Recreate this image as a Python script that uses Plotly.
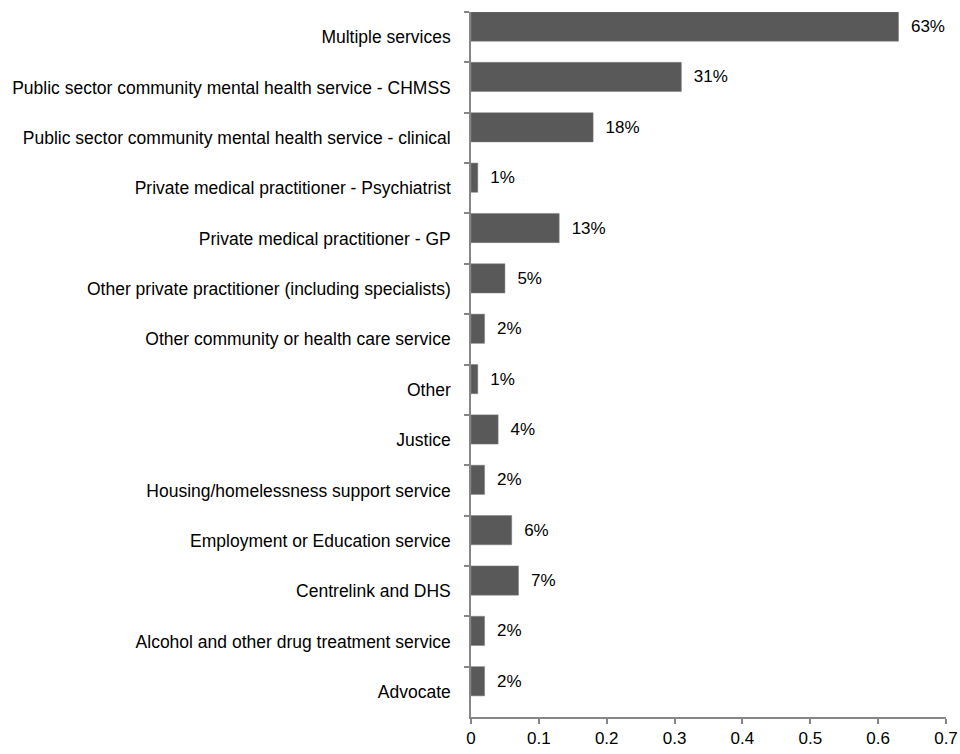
import plotly.graph_objects as go

categories = [
    "Multiple services",
    "Public sector community mental health service - CHMSS",
    "Public sector community mental health service - clinical",
    "Private medical practitioner - Psychiatrist",
    "Private medical practitioner - GP",
    "Other private practitioner (including specialists)",
    "Other community or health care service",
    "Other",
    "Justice",
    "Housing/homelessness support service",
    "Employment or Education service",
    "Centrelink and DHS",
    "Alcohol and other drug treatment service",
    "Advocate",
]
values = [0.63, 0.31, 0.18, 0.01, 0.13, 0.05, 0.02, 0.01, 0.04, 0.02, 0.06, 0.07, 0.02, 0.02]
labels = ["63%", "31%", "18%", "1%", "13%", "5%", "2%", "1%", "4%", "2%", "6%", "7%", "2%", "2%"]
x_ticks = [0, 0.1, 0.2, 0.3, 0.4, 0.5, 0.6, 0.7]

font_family = "Liberation Sans, Arial, sans-serif"

fig = go.Figure(go.Bar(
    x=values,
    y=categories,
    orientation="h",
    text=["  " + t for t in labels],
    textposition="outside",
    textfont=dict(size=17, color="#000000", family=font_family),
    cliponaxis=False,
    constraintext="none",
    marker=dict(color="#595959", line=dict(color="#7f7f7f", width=0.5)),
    width=0.58,
    offset=-0.5,
))

fig.update_layout(
    width=960, height=754,
    margin=dict(l=471, r=14, t=12, b=37, autoexpand=False),
    plot_bgcolor="white", paper_bgcolor="white",
    showlegend=False,
    font=dict(family=font_family, size=17, color="#000000"),
)
fig.update_xaxes(
    range=[0, 0.7], tickvals=x_ticks, ticktext=[f"{v:g}" for v in x_ticks],
    showgrid=False, zeroline=False, automargin=False,
    showline=True, linecolor="#868686", linewidth=1.5,
    ticks="outside", ticklen=5, tickcolor="#868686", tickwidth=1.5,
    tickfont=dict(size=17),
)
fig.update_yaxes(
    categoryorder="array", categoryarray=categories, autorange="reversed",
    showgrid=False, showline=True, linecolor="#868686", linewidth=1.5,
    automargin=False,
    ticks="outside", ticklen=5, tickcolor="#868686", tickwidth=1.5,
    tickson="boundaries", ticklabelstandoff=15,
    tickfont=dict(size=17.5),
)

fig.write_html("out.html")
